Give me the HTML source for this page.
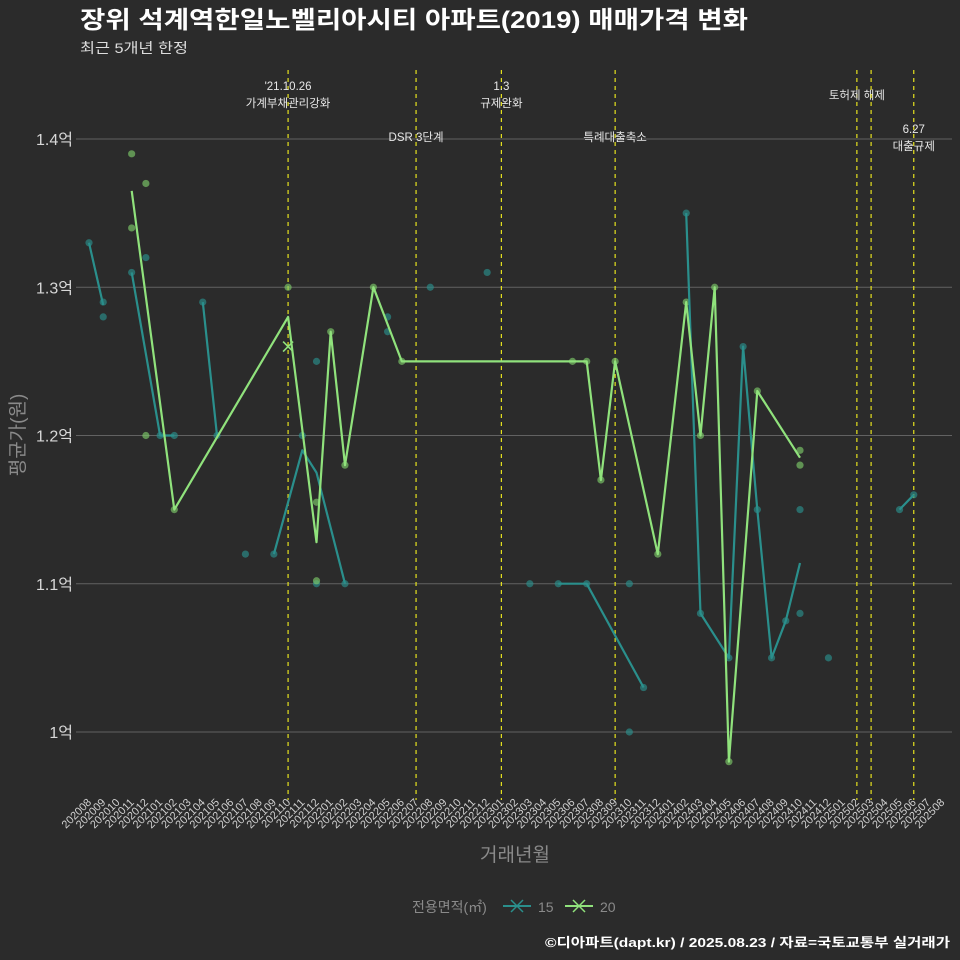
<!DOCTYPE html>
<html><head><meta charset="utf-8">
<style>
html,body{margin:0;padding:0;background:#2b2b2b;}
svg{display:block;font-family:"Liberation Sans","Noto Sans CJK KR",sans-serif;}
</style></head>
<body>
<svg id="chart" width="960" height="960" viewBox="0 0 960 960" xmlns="http://www.w3.org/2000/svg">
<rect width="960" height="960" fill="#2b2b2b"/>
<text x="80" y="28" font-size="24" font-weight="bold" fill="#ffffff" textLength="668" lengthAdjust="spacingAndGlyphs">장위 석계역한일노벨리아시티 아파트(2019) 매매가격 변화</text>
<text x="80" y="53" font-size="14" fill="#dddddd" textLength="108" lengthAdjust="spacingAndGlyphs">최근 5개년 한정</text>
<g id="grid"></g><g id="events"></g><g id="series"></g><g id="axes"></g>
<text x="515" y="861" font-size="19" fill="#8a8a8a" text-anchor="middle">거래년월</text>
<text transform="translate(24,435) rotate(-90)" font-size="19" fill="#8a8a8a" text-anchor="middle">평균가(원)</text>
<g>
<text x="412" y="912" font-size="14" fill="#8a8a8a">전용면적(㎡)</text>
<g><line x1="503" y1="906" x2="531" y2="906" stroke="#2a8f8c" stroke-width="2"/><path d="M511 900 L523 912 M511 912 L523 900" stroke="#2a8f8c" stroke-width="1.5"/><text x="538" y="912" font-size="14" fill="#8a8a8a">15</text></g>
<g><line x1="565" y1="906" x2="593" y2="906" stroke="#90e27c" stroke-width="2"/><path d="M573 900 L585 912 M573 912 L585 900" stroke="#90e27c" stroke-width="1.5"/><text x="600" y="912" font-size="14" fill="#8a8a8a">20</text></g>
</g>
<text x="545" y="947" font-size="13" font-weight="bold" fill="#ffffff" textLength="405" lengthAdjust="spacingAndGlyphs">©디아파트(dapt.kr) / 2025.08.23 / 자료=국토교통부 실거래가</text>
</svg>
<script>
const months = [];
for (let y = 2020, m = 8; y * 100 + m <= 202508; m++) { if (m > 12) { m = 1; y++; } months.push(String(y * 100 + m)); }
const yTicks = [1.0, 1.1, 1.2, 1.3, 1.4];
const yTickLabels = ["1억", "1.1억", "1.2억", "1.3억", "1.4억"];
// line series: null = break
const line15Months = ["202008","202009",null,"202011","202101","202102",null,"202104","202105",null,"202109","202111","202112","202202",null,"202305","202307","202311",null,"202402","202403","202405","202406","202407","202408","202409","202410",null,"202505","202506"];
const line15Values = [1.33,1.288,null,1.31,1.2,1.2,null,1.29,1.2,null,1.12,1.19,1.175,1.1,null,1.1,1.1,1.03,null,1.35,1.08,1.05,1.26,1.15,1.05,1.075,1.114,null,1.15,1.16];
const line20Months = ["202011","202102","202110","202112","202201","202202","202204","202206","202306","202307","202308","202309","202312","202402","202403","202404","202405","202407","202410"];
const line20Values = [1.365,1.15,1.28,1.128,1.27,1.18,1.3,1.25,1.25,1.25,1.17,1.25,1.12,1.29,1.2,1.3,0.98,1.23,1.185];
// transactions
const pts15Months = ["202008","202009","202009","202011","202012","202101","202102","202104","202105","202107","202109","202111","202112","202112","202202","202205","202205","202208","202212","202303","202305","202307","202310","202310","202311","202402","202403","202405","202406","202407","202408","202409","202410","202410","202412","202505","202506"];
const pts15Values = [1.33,1.29,1.28,1.31,1.32,1.2,1.2,1.29,1.2,1.12,1.12,1.2,1.25,1.1,1.1,1.28,1.27,1.3,1.31,1.1,1.1,1.1,1.1,1.0,1.03,1.35,1.08,1.05,1.26,1.15,1.05,1.075,1.15,1.08,1.05,1.15,1.16];
const pts20Months = ["202011","202011","202012","202012","202102","202110","202112","202112","202201","202202","202204","202206","202306","202307","202308","202309","202312","202402","202403","202404","202405","202407","202410","202410"];
const pts20Values = [1.39,1.34,1.37,1.2,1.15,1.3,1.155,1.102,1.27,1.18,1.3,1.25,1.25,1.25,1.17,1.25,1.12,1.29,1.2,1.3,0.98,1.23,1.19,1.18];
const eventMonths = ["202110","202207","202301","202309","202502","202503","202506"];
const eventLabels = [["'21.10.26","가계부채관리강화"],["DSR 3단계"],["1.3","규제완화"],["특례대출축소"],["토허제 해제"],[],["6.27","대출규제"]];
const eventLabelY = [90,141,90,141,99,0,133];

const NS = "http://www.w3.org/2000/svg";
const X0 = 89, DX = 14.22, Y0 = 732, DY = 1482.5;
function xs(mo) { return X0 + months.indexOf(mo) * DX; }
function ys(v) { return Y0 - (v - 1) * DY; }
function mk(tag, attrs, parent) { const e = document.createElementNS(NS, tag); for (const k in attrs) e.setAttribute(k, attrs[k]); parent.appendChild(e); return e; }
const grid = document.getElementById("grid"), axes = document.getElementById("axes"), ev = document.getElementById("events"), ser = document.getElementById("series");

yTicks.forEach((t, i) => {
  const l = mk("line", {x1: 76, x2: 952, y1: ys(t), y2: ys(t), stroke: "#626262", "stroke-width": 1}, grid);
  
  
  const tx = mk("text", {x: 73, y: ys(t) + 6, "font-size": 16, fill: "#d8d8d8", "text-anchor": "end"}, axes);
  tx.textContent = yTickLabels[i];
  
  
});
months.forEach(mo => {
  const x = xs(mo);
  const tx = mk("text", {x: x + 3, y: 803, "font-size": 11, fill: "#d0d0d0", "text-anchor": "end", transform: `rotate(-45 ${x + 3} 803)`}, axes);
  tx.textContent = mo;
  
  
});
eventMonths.forEach((mo, i) => {
  const x = xs(mo);
  const l = mk("line", {x1: x, x2: x, y1: 70, y2: 800, stroke: "#e6e21e", "stroke-width": 1.2, "stroke-dasharray": "4,4"}, ev);
  
  
  eventLabels[i].forEach((s, j) => {
    const t = mk("text", {x: x, y: eventLabelY[i] + j * 17, "font-size": 11.5, fill: "#e8e8e8", "text-anchor": "middle"}, ev);
    t.textContent = s;
    
    
  });
});
function drawLine(ms, vs, color, name) {
  let d = "", pen = false;
  ms.forEach((mo, i) => {
    if (mo === null || vs[i] === null) { pen = false; return; }
    d += (pen ? "L" : "M") + xs(mo).toFixed(1) + " " + ys(vs[i]).toFixed(1) + " ";
    pen = true;
  });
  const p = mk("path", {d: d, fill: "none", stroke: color, "stroke-width": 2.2, "stroke-linejoin": "round"}, ser);
  
  
}
function drawPts(ms, vs, color, name) {
  ms.forEach((mo, i) => {
    const c = mk("circle", {cx: xs(mo), cy: ys(vs[i]), r: 3.6, fill: color, "fill-opacity": 0.65}, ser);
    
    
  });
}
drawPts(pts15Months, pts15Values, "#2a8f8c", "point-15");
drawPts(pts20Months, pts20Values, "#7cc968", "point-20");
drawLine(line15Months, line15Values, "#2a8f8c", "line-15");
drawLine(line20Months, line20Values, "#90e27c", "line-20");
const cx = xs("202110"), cy = ys(1.26);
const xm = mk("path", {d: `M${cx-5} ${cy-5} L${cx+5} ${cy+5} M${cx-5} ${cy+5} L${cx+5} ${cy-5}`, stroke: "#90e27c", "stroke-width": 1.6}, ser);


</script>
</body></html>
